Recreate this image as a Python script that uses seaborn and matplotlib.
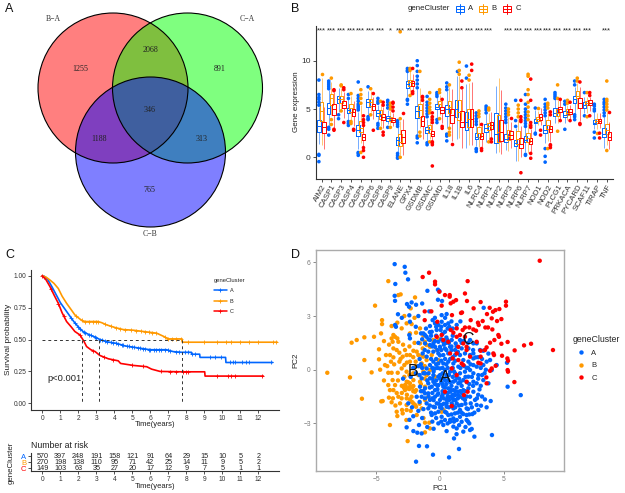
import matplotlib
matplotlib.use("Agg")
import matplotlib.pyplot as plt
from matplotlib.lines import Line2D
from matplotlib.patches import Circle, Rectangle
import numpy as np
import pandas as pd
import seaborn as sns

clusters = ["A", "B", "C"]
cluster_colors = {"A": "#0066FF", "B": "#FF9900", "C": "#FF0000"}

# panel A
venn_labels = ["B\u2212A", "C\u2212A", "C\u2212B"]
venn_counts = ["1255", "2068", "891", "346", "1188", "313", "765"]

# panel B
genes = ["AIM2", "CASP1", "CASP3", "CASP4", "CASP5", "CASP6", "CASP8", "CASP9", "ELANE", "GPX4",
         "GSDMB", "GSDMC", "GSDMD", "IL18", "IL1B", "IL6", "NLRC4", "NLRP1", "NLRP2", "NLRP3",
         "NLRP6", "NLRP7", "NOD1", "NOD2", "PLCG1", "PRKACA", "PYCARD", "SCAF11", "TIRAP", "TNF"]
signif = ["***", "***", "***", "***", "***", "***", "***", "*", "***", "**",
          "***", "***", "***", "***", "***", "***", "***", "***", "", "***",
          "***", "***", "***", "***", "***", "***", "***", "***", "", "***"]

a_low = [1.4, 3.2, 4.7, 3.9, 0.9, 4.3, 3.6, 3.4, 0.5, 6.2, 2.4, 1.6, 4.0, 3.0, 1.9,
         1.0, 1.2, 1.6, 0.4, 0.8, -0.4, 0.5, 2.6, 1.5, 3.5, 3.6, 4.5, 4.6, 2.9, 1.0]
a_q1 = [2.6, 4.5, 5.6, 4.6, 2.2, 5.2, 4.3, 3.8, 1.3, 7.2, 4.1, 2.5, 5.0, 4.3, 4.2,
        2.8, 1.9, 2.6, 1.5, 1.6, 1.2, 1.6, 3.5, 2.5, 4.3, 4.2, 5.65, 5.1, 3.4, 2.1]
a_med = [3.2, 5.1, 6.0, 4.9, 2.8, 5.7, 4.6, 4.1, 1.8, 7.6, 4.8, 2.8, 5.2, 5.0, 5.0,
         3.7, 2.1, 3.0, 2.4, 1.9, 1.5, 1.8, 3.7, 2.8, 4.6, 4.4, 6.0, 5.4, 3.6, 2.4]
a_q3 = [3.9, 5.6, 6.3, 5.1, 3.3, 6.0, 4.9, 4.3, 2.1, 7.9, 5.3, 3.1, 5.5, 5.4, 5.9,
        4.7, 2.5, 3.4, 4.6, 2.4, 1.8, 2.2, 4.0, 3.3, 5.1, 4.8, 6.4, 5.7, 3.9, 3.0]
a_high = [5.2, 7.0, 7.2, 6.0, 4.7, 6.9, 5.4, 4.9, 3.1, 8.8, 7.1, 4.0, 6.2, 6.9, 8.4,
          7.6, 3.3, 4.5, 7.4, 3.4, 3.0, 3.1, 4.9, 4.2, 6.0, 5.4, 7.3, 6.2, 4.7, 4.2]

b_low = [1.3, 4.4, 4.9, 3.8, 1.5, 4.7, 3.2, 3.3, 0.2, 6.5, 3.0, 1.9, 4.4, 3.1, 2.0,
         1.3, 1.1, 1.7, 0.5, 0.7, -0.4, 0.4, 3.3, 1.7, 3.6, 3.9, 5.0, 4.6, 2.9, 1.3]
b_q1 = [3.8, 5.4, 5.6, 4.7, 2.6, 5.3, 4.0, 3.8, 1.2, 7.4, 4.2, 2.5, 5.2, 4.6, 3.9,
        3.1, 2.1, 2.8, 1.6, 1.8, 1.4, 1.6, 3.8, 2.9, 4.3, 4.4, 6.1, 5.4, 3.5, 2.4]
b_med = [4.8, 6.1, 6.0, 5.1, 3.0, 5.7, 4.5, 4.0, 1.6, 7.8, 4.9, 2.9, 5.5, 5.2, 4.7,
         4.0, 2.5, 3.2, 2.6, 2.2, 1.9, 2.0, 4.0, 3.3, 4.6, 4.6, 6.4, 5.6, 3.8, 2.8]
b_q3 = [5.7, 6.6, 6.3, 5.5, 3.8, 6.0, 4.9, 4.2, 2.4, 8.0, 5.5, 3.3, 5.8, 5.8, 5.9,
        5.0, 3.1, 3.6, 4.4, 2.8, 2.7, 2.5, 4.2, 3.9, 5.0, 5.0, 6.9, 5.8, 4.0, 3.4]
b_high = [8.2, 7.8, 7.2, 6.4, 5.4, 6.9, 5.6, 4.8, 3.8, 8.9, 7.2, 4.3, 6.5, 7.3, 8.4,
          7.7, 4.0, 4.6, 8.2, 4.2, 4.0, 3.6, 4.8, 4.9, 5.9, 5.4, 7.7, 6.2, 4.6, 4.7]

c_low = [0.9, 3.0, 4.1, 3.2, 1.2, 4.0, 3.0, 3.2, 0.2, 6.9, 1.9, 1.7, 3.5, 1.7, 1.0,
         1.3, 1.1, 1.9, 0.3, 1.0, 0.0, 0.5, 3.3, 1.6, 3.9, 3.9, 3.8, 4.8, 3.0, 0.9]
c_q1 = [2.5, 4.4, 5.1, 4.3, 1.8, 4.9, 3.9, 3.7, 1.5, 7.4, 3.2, 2.2, 4.6, 3.5, 3.1,
        3.1, 1.9, 2.9, 1.7, 1.9, 1.0, 1.4, 3.9, 2.6, 4.7, 4.5, 5.1, 5.4, 3.5, 1.8]
c_med = [3.1, 5.0, 5.4, 4.7, 2.1, 5.3, 4.2, 3.9, 2.1, 7.7, 3.8, 2.4, 4.9, 4.4, 3.7,
         4.0, 2.2, 3.3, 2.6, 2.3, 1.4, 1.7, 4.2, 2.9, 4.95, 4.7, 5.6, 5.6, 3.8, 2.1]
c_q3 = [3.7, 5.5, 5.8, 5.0, 2.4, 5.5, 4.5, 4.1, 2.8, 7.9, 4.3, 2.7, 5.2, 5.0, 4.8,
        5.0, 2.5, 3.7, 3.9, 2.7, 2.0, 2.0, 4.5, 3.2, 5.2, 5.0, 6.1, 5.9, 4.0, 2.6]
c_high = [5.2, 6.8, 6.8, 5.8, 3.2, 6.2, 5.2, 4.6, 4.0, 8.6, 5.7, 3.4, 5.9, 7.1, 7.1,
          7.8, 3.3, 4.7, 7.0, 3.7, 3.2, 2.9, 5.1, 3.9, 5.9, 5.4, 7.3, 6.2, 4.6, 3.7]

a_out = [[5.4, 5.7, 6.0, 6.2, 6.5, 8.0, 0.2, 0.3, -0.45], [7.1, 7.3, 7.5, 7.7, 7.9, 2.3, 2.9, 3.1], [4.0, 4.4],
         [6.1, 6.5, 3.3, 3.5, 3.7], [4.9, 5.1, 5.3, 5.5, 5.8, 6.1, 6.4, 7.8, 0.2, 0.4, 0.5], [7.3, 4.0, 4.2, 3.9],
         [5.6, 5.8, 6.1, 3.0, 3.3, 3.5], [5.1, 5.4, 5.7, 5.9, 3.1], [3.2, 3.4, 3.6, 3.8, 0.0, -0.1, 0.2, 0.4],
         [9.2, 9.0, 8.9, 6.0, 5.5, 5.9], [7.2, 7.6, 8.0, 8.4, 8.9, 9.5, 10.0, 2.2, 2.0, 1.5],
         [4.2, 4.5, 4.8, 5.1, 5.4, 5.7, 6.3, 1.5, 1.3], [6.3, 6.5, 6.7, 3.6, 3.9], [7.0, 7.3, 7.7, 2.2, 2.4, 1.7],
         [8.9], [8.2, 9.45], [3.4, 3.7, 4.0, 4.3, 4.6, 0.6, 0.8, 0.9], [4.6, 4.9, 5.1, 5.3], [],
         [3.6, 3.9, 4.2, 4.5, 4.8, 5.1, 5.5], [3.2, 3.8, 5.9], [3.2, 3.5, 3.8, 4.1, 4.4, 4.7, 5.0, 5.5, 6.5, 0.3, 0.2],
         [5.1, 2.4, 2.5], [4.3, 4.6, 4.9, 5.2, 5.5, 6.0, 0.9, 0.1, -0.5], [6.1, 6.3, 6.5, 6.7], [5.5, 5.8, 2.9],
         [7.5, 7.9, 4.2, 3.9, 4.4], [6.7, 4.3], [4.8, 5.0, 5.3, 5.5, 2.6, 2.0], [4.3, 4.6, 4.9, 5.2, 5.5, 5.7, 6.0]]
b_out = [[8.6], [8.2, 3.9, 3.4], [7.5, 7.4, 4.8], [6.6, 3.7, 3.5], [5.6, 6.1, 6.5, 7.0, 0.5], [7.1, 4.4], [5.8, 3.0],
         [5.0, 5.3, 5.6, 3.1], [4.0, 0.0, 13.0], [9.2, 9.0, 6.4], [8.9, 2.6, 2.2], [4.6, 4.9, 5.2, 5.6, 6.0, 6.7, 1.6],
         [6.7, 7.0, 4.0], [7.5, 2.3, 2.6, 3.0], [8.6, 9.0, 9.85], [8.0, 8.5], [4.2, 4.5, 4.8], [4.9, 5.1, 1.6], [],
         [4.4, 4.7, 5.0], [4.2, 4.6, 5.0, 5.4], [3.9, 4.3, 4.7, 5.2, 5.7, 6.5, 7.0, 8.4, 8.6], [5.1],
         [5.1, 5.4, 5.6, 0.9], [6.1, 7.5, 2.7], [5.6, 5.9], [8.2, 7.9], [6.7, 4.2], [2.5],
         [7.9, 4.9, 5.2, 5.5, 5.8, 6.0, 0.7]]
c_out = [[], [6.9, 7.0, 2.8, 2.9], [7.0, 7.2, 3.6], [2.8, 2.9], [3.3, 3.6, 3.9, 4.3, 1.0, 0.7, 0.0], [6.6, 2.8],
         [5.4, 5.7, 2.3, 2.6], [4.8, 5.2, 5.6, 5.7], [4.6], [9.2, 6.6, 6.8], [5.9, 6.2, 6.3],
         [3.6, 3.9, 4.2, 4.6, 1.5, 1.3, 1.6, -0.9], [6.0, 3.0, 3.2], [1.4], [7.9, 7.2], [9.65, 9.0], [3.4, 0.7, 0.9],
         [1.6, 1.9], [], [4.1], [5.9, 3.7, 3.9, 4.2, -1.6], [8.1, 5.9, 3.1, 3.3, 3.6, 0.4, -0.1], [2.8, 2.3],
         [4.4, 4.7, 1.2, 1.3, 1.0], [6.0, 3.8], [5.7, 3.8], [7.8, 3.5, 3.4], [6.7, 6.4, 4.3], [2.5, 2.0], [4.7]]

# panel C
a_time = [0, 0.15, 0.3, 0.43, 0.55, 0.7, 0.89, 1.0, 1.15, 1.35, 1.5, 1.65, 1.81, 2.0, 2.28, 2.5, 2.74, 3.0, 3.2,
          3.67, 4.13, 4.59, 5.06, 5.52, 5.98, 6.9, 7.28, 7.74, 8.28, 8.3, 8.74, 8.76, 10.18, 10.2, 12.8]
a_surv = [1, 0.99, 0.97, 0.94, 0.91, 0.87, 0.82, 0.79, 0.76, 0.72, 0.69, 0.66, 0.63, 0.60, 0.56, 0.545, 0.53, 0.515, 0.5,
          0.48, 0.47, 0.45, 0.44, 0.43, 0.42, 0.42, 0.405, 0.40, 0.40, 0.385, 0.385, 0.36, 0.36, 0.32, 0.32]
b_time = [0, 0.2, 0.43, 0.65, 0.89, 1.1, 1.35, 1.6, 1.81, 2.05, 2.28, 3.1, 3.3, 3.57, 4.04, 4.5, 5.06, 5.61, 6.35, 6.72,
          7.0, 7.76, 7.78, 13.05]
b_surv = [1, 0.99, 0.966, 0.94, 0.90, 0.84, 0.784, 0.735, 0.693, 0.665, 0.641, 0.641, 0.632, 0.615, 0.594, 0.578, 0.573,
          0.563, 0.55, 0.526, 0.505, 0.505, 0.479, 0.479]
c_time = [0, 0.2, 0.43, 0.65, 0.89, 1.1, 1.35, 1.6, 1.81, 2.09, 2.3, 2.46, 2.7, 2.93, 3.2, 3.67, 4.22, 4.35, 5.06,
          5.8, 6.07, 6.54, 7.74, 9.02, 9.04, 12.28]
c_surv = [1, 0.97, 0.914, 0.85, 0.784, 0.71, 0.641, 0.60, 0.563, 0.536, 0.49, 0.445, 0.42, 0.406, 0.375, 0.349, 0.333,
          0.3125, 0.297, 0.287, 0.268, 0.25, 0.247, 0.247, 0.2135, 0.2135]

a_censor = [0.1, 1.6, 1.8, 2.0, 2.1, 2.3, 2.4, 2.6, 2.7, 2.9, 3.0, 3.2, 3.3, 3.5, 3.6, 3.8, 3.9, 4.1, 4.2, 4.4, 4.5, 4.7,
            4.8, 5.0, 5.1, 5.3, 5.4, 5.6, 5.7, 5.9, 6.0, 6.2, 6.3, 6.5, 6.6, 6.8, 7.0, 7.1, 7.4, 7.6, 7.9, 8.1,
            8.3, 8.5, 9.3, 9.6, 9.9, 10.4, 10.6, 10.7, 11.1, 11.3, 11.5, 12.7]
b_censor = [1.9, 2.2, 2.4, 2.6, 2.8, 3.0, 3.1, 3.5, 3.8, 4.1, 4.3, 4.6, 4.9, 5.2, 5.5, 5.7, 5.9, 6.1, 6.3, 6.8, 7.0, 7.2,
            7.4, 7.7, 8.1, 9.0, 9.7, 10.2, 10.5, 11.0, 11.5, 12.0, 12.8, 13.0]
c_censor = [0.0, 0.5, 0.9, 1.2, 2.1, 2.8, 3.4, 3.9, 5.0, 5.6, 6.6, 7.1, 7.4, 7.8, 8.0, 8.1, 9.7, 10.3, 10.5, 10.7, 12.2]
median_times = [2.2, 3.13, 7.78]

risk_years = list(range(13))
a_risk = [570, 397, 248, 191, 158, 121, 91, 64, 29, 15, 10, 5, 2]
b_risk = [270, 198, 138, 110, 95, 71, 42, 25, 14, 11, 9, 5, 2]
c_risk = [149, 103, 63, 35, 27, 20, 17, 12, 9, 7, 5, 1, 1]

# panel D
c_pc = [(7.83, 6.09), (-0.86, 5.42), (-1.36, 5.18), (2.17, 4.95), (-0.39, 4.92), (-0.39, 4.77), (-0.05, 4.36), (1.96, 4.26),
        (0.39, 4.17), (0.76, 4.17), (0.76, 4.08), (1.26, 3.89), (1.05, 3.80), (2.12, 3.84), (0.84, 3.71), (0.13, 3.58),
        (3.19, 3.78), (5.18, 3.80), (5.18, 3.58), (3.90, 3.46), (2.64, 3.43), (4.66, 3.39), (4.35, 3.33), (4.16, 3.24),
        (3.69, 3.11), (-1.20, 3.26), (-0.68, 3.26), (1.65, 3.17), (0.94, 3.05), (1.73, 3.20), (4.06, 2.87), (4.82, 2.83),
        (4.48, 2.72), (-1.20, 2.77), (2.41, 2.77), (3.35, 2.72), (2.98, 2.63), (-0.21, 2.68), (3.04, 2.50), (3.56, 2.36),
        (3.77, 2.36), (1.96, 2.36), (2.30, 2.36), (2.62, 2.25), (2.83, 2.18), (4.11, 2.25), (0.84, 2.22), (1.31, 2.31),
        (1.78, 2.22), (1.05, 2.07), (1.57, 1.94), (1.31, 1.84), (1.96, 1.84), (4.58, 1.94), (4.63, 1.84), (4.27, 1.66),
        (3.93, 1.51), (3.66, 1.25), (5.31, 1.55), (4.82, 1.45), (5.86, 1.08), (6.60, 1.36), (7.15, 1.45), (8.87, 1.10),
        (3.53, 1.10), (3.19, 1.06), (4.19, 0.91), (4.24, 0.82), (4.87, 0.78), (5.29, 0.63), (5.34, 0.50), (5.31, -0.02),
        (5.34, -0.11), (4.37, 0.22), (4.06, 0.07), (3.93, -0.06), (3.64, -0.43), (3.66, -0.76), (5.84, -0.69), (3.19, 0.73),
        (3.01, 0.39), (3.19, 0.35), (2.36, 0.73), (2.09, 1.10), (1.70, 0.35), (1.83, 0.26), (1.44, 0.54), (0.99, 0.63),
        (0.92, 0.07), (2.17, -1.23), (0.39, -1.23), (0.92, -2.03), (0.79, 0.91), (1.31, 0.91), (2.88, 1.56), (1.83, 1.47),
        (2.09, 1.28), (0.26, 1.66), (-0.26, 1.84), (0.13, 1.94), (0.65, 1.56), (1.44, 1.28), (2.09, -0.67), (1.31, -0.30),
        (1.88, -1.42)]
b_pc = [(-8.85, -0.17), (-7.07, -0.43), (-6.13, -1.62), (-6.94, 1.51), (-6.54, 1.66), (-5.94, 1.81), (-5.18, 1.84), (-5.10, 3.58),
        (-4.06, 4.95), (-1.96, 4.04), (-3.09, 4.21), (-3.27, 4.17), (-2.30, 3.43), (-4.55, 2.77), (-4.55, 2.55), (-4.63, 2.03),
        (-4.79, 1.14), (-5.94, 0.54), (-4.79, 0.58), (-5.37, -0.15), (-4.61, -1.77), (-4.50, -1.75), (-4.01, -1.56), (-3.80, -1.82),
        (-3.93, -3.09), (-3.40, -2.35), (-3.35, -2.59), (-2.98, -2.25), (-2.54, -3.99), (-2.64, -2.81), (-2.93, -2.44), (-2.62, -2.25),
        (-1.18, -3.50), (-0.79, -3.28), (-1.18, -2.96), (-0.84, -2.96), (-1.83, -2.53), (-1.44, -2.16), (-1.96, -1.97), (-3.80, 2.44),
        (-3.35, 2.63), (-2.62, 2.59), (-2.23, 2.55), (-3.01, 2.31), (-3.66, 1.94), (-3.80, 1.75), (-3.53, 1.84), (-3.35, 1.75),
        (-3.72, 1.56), (-3.27, 1.56), (-2.36, 2.03), (-1.88, 2.07), (-1.57, 2.31), (-3.66, 1.19), (-3.93, 0.82), (-4.24, 0.82),
        (-4.32, 0.26), (-4.14, 0.20), (-3.85, 0.45), (-3.66, 0.69), (-3.19, 0.95), (-2.75, 1.10), (-2.09, 1.06), (-1.83, 1.01),
        (-1.36, 1.19), (-1.05, 1.38), (-0.79, 1.28), (-1.18, 1.56), (-1.57, 1.47), (-0.65, 0.82), (-1.31, 0.73), (-1.70, 0.82),
        (-2.36, 0.82), (-2.62, 0.82), (-2.93, 0.73), (-3.19, 0.45), (-2.80, 0.26), (-2.36, 0.45), (-1.91, 0.45), (-1.44, 0.35),
        (-1.05, 0.54), (-4.06, -0.17), (-3.80, -0.17), (-3.32, -0.17), (-3.01, 0.07), (-2.62, -0.11), (-4.06, -0.86), (-3.72, -0.58),
        (-3.53, -0.86), (-3.93, -1.14), (-2.75, -0.86), (-2.57, -1.04), (-2.36, -0.95), (-2.62, -0.67), (-2.36, -0.76), (-2.09, -0.58),
        (-1.70, -0.30), (-1.31, -0.11), (-1.05, -0.30), (-0.79, -0.02), (-1.57, -0.67), (-1.88, -1.14), (-3.66, -1.14), (-3.27, -1.51),
        (-3.01, -1.60), (-2.62, -1.60), (-2.36, -1.66), (-2.09, -1.88), (-1.88, -2.07), (-2.62, -1.97), (-3.14, -1.88), (-1.18, -0.95),
        (-0.92, -1.51), (-1.18, -1.69), (-0.39, -0.39), (-0.13, 0.54), (-0.26, 1.10), (-0.13, 1.75), (-0.52, 1.66), (0.26, -2.25),
        (0.13, -2.35), (-1.96, -1.23), (-2.23, -1.51), (-2.75, -1.14), (-2.83, -1.01), (-2.41, -1.08), (-2.09, -0.91),
        (-2.0, 1.5), (-2.4, 1.3), (-2.9, 1.4), (-3.4, 1.1), (-3.6, 0.3), (-3.3, -0.6), (-3.0, -0.9), (-2.8, -0.4), (-2.4, -0.3),
        (-2.1, -0.2), (-1.9, 0.2), (-1.6, 0.2), (-1.4, 0.8), (-1.2, 0.2), (-1.5, -0.8), (-1.2, -0.5), (-2.1, -1.2), (-2.6, -1.4),
        (-3.4, -1.3), (-3.7, -1.6), (-3.5, -2.0), (-2.3, -2.3), (-1.6, -1.9), (-1.4, -1.2), (-1.3, -2.7), (-2.0, 2.9), (-2.8, 3.0),
        (-1.3, 1.9), (-4.0, 1.4), (-4.4, 1.6), (-3.1, 0.6), (-2.6, 0.4), (-2.1, 0.7), (-4.4, -0.6), (-4.7, 0.0), (-3.0, -1.3),
        (-2.2, -1.8), (-2.5, -0.7), (-2.7, -0.9), (-2.2, -1.0)]
a_pc = [(-3.56, 5.90), (-2.77, 5.75), (-2.72, 5.42), (-2.51, 5.05), (-3.51, 4.79), (-3.56, 4.13), (-3.53, 3.85), (-0.99, 4.41),
        (-0.16, 4.47), (-0.05, 4.39), (-0.16, 3.91), (0.16, 3.84), (-2.59, 3.67), (-2.23, 3.76), (-1.88, 3.63), (-2.43, 3.52),
        (-2.41, 3.04), (-0.84, 3.26), (0.13, 3.05), (0.52, 3.11), (-0.58, 2.77), (-1.31, 2.03), (-3.46, 2.40), (-3.53, 2.50),
        (-2.36, 2.68), (-2.41, 1.94), (-2.36, 1.75), (-1.18, 1.94), (-1.49, 2.03), (-1.05, 1.84), (-0.79, 2.44), (-0.39, 2.59),
        (-0.13, 2.50), (0.13, 2.68), (0.39, 2.50), (0.65, 2.59), (-0.65, 2.12), (-0.26, 2.22), (0.05, 2.22), (0.39, 2.12),
        (0.73, 2.40), (1.31, 2.50), (-0.79, 1.66), (-0.52, 1.47), (-0.13, 1.56), (0.26, 1.56), (0.58, 1.66), (0.92, 1.66),
        (1.23, 1.47), (1.57, 1.66), (1.88, 1.62), (2.36, 1.66), (2.62, 1.47), (2.88, 1.47), (3.43, 3.46), (3.40, 1.06),
        (2.62, 0.91), (3.14, 1.10), (2.36, 0.82), (2.80, 0.69), (3.93, 0.54), (3.66, 0.45), (3.40, 0.26), (3.09, 0.35),
        (2.88, 0.17), (2.62, 0.26), (4.06, -0.02), (4.45, 0.26), (5.26, 0.39), (5.31, -0.95), (6.34, -1.42), (3.53, -1.66),
        (3.98, -1.75), (3.22, -2.01), (3.66, -2.10), (3.01, -2.25), (4.08, -3.65), (2.70, -3.74), (1.49, -4.43), (0.71, -4.90),
        (-0.55, -4.75), (-1.02, -4.28), (-1.65, -4.26), (-1.88, -5.14), (1.10, -3.84), (-2.62, -3.22), (-1.65, -3.09), (-1.78, -3.52),
        (-1.44, -3.56), (-2.09, -3.43), (0.52, -3.43), (0.79, -2.91), (1.31, -3.28), (1.83, -3.46), (2.36, -3.37), (2.49, -3.31),
        (2.30, -3.00), (1.57, -2.63), (1.05, -2.72), (0.39, -2.81), (-0.13, -3.00), (-0.65, -2.53), (-0.39, -2.44), (0.13, -2.63),
        (0.65, -2.53), (1.18, -2.44), (1.83, -2.48), (2.09, -2.53), (2.54, -2.48), (2.41, -1.88), (2.75, -1.69), (2.88, -1.97),
        (2.09, -2.16), (1.57, -2.25), (1.05, -2.16), (0.52, -2.07), (0.13, -2.16), (-0.26, -1.88), (-0.79, -1.69), (-1.18, -1.60),
        (-1.05, -1.88), (-1.44, -1.51), (-2.49, -1.88), (-1.18, -1.04), (-0.92, -0.76), (-0.65, -0.95), (-0.39, -1.14), (-0.13, -1.32),
        (0.13, -1.51), (0.52, -1.69), (0.79, -1.51), (1.05, -1.69), (1.31, -1.88), (1.70, -1.97), (1.96, -1.69), (2.36, -1.51),
        (2.62, -1.23), (2.23, -1.04), (1.83, -1.14), (1.44, -1.23), (1.05, -1.14), (0.65, -1.04), (0.26, -0.95), (-0.13, -0.86),
        (-0.52, -0.67), (-0.79, -0.48), (-0.52, -0.30), (-0.13, -0.39), (0.26, -0.48), (0.65, -0.58), (1.05, -0.67), (1.44, -0.76),
        (1.83, -0.58), (2.23, -0.39), (2.62, -0.20), (3.01, -0.30), (3.40, -0.58), (2.88, -0.76), (2.62, -0.67), (3.80, -0.76),
        (2.36, -0.02), (1.96, -0.11), (1.57, -0.20), (1.18, -0.20), (0.79, -0.11), (0.39, -0.02), (0.0, 0.07), (-0.39, 0.07),
        (-0.79, 0.26), (-0.52, 0.45), (-0.13, 0.35), (0.26, 0.35), (0.65, 0.45), (1.05, 0.35), (1.44, 0.17), (1.83, 0.54),
        (2.23, 0.45), (2.62, 0.63), (1.57, 0.82), (1.18, 0.82), (0.65, 0.91), (0.26, 0.82), (-0.13, 0.91), (-0.52, 1.01),
        (-0.92, 1.01), (-1.05, 0.73), (-1.36, 0.91), (1.96, 0.91), (2.23, 1.19), (1.70, 1.19), (1.18, 1.10), (0.79, 1.28),
        (0.39, 1.19), (0.0, 1.28), (-0.39, 1.28), (-0.79, 1.38), (-1.18, 1.47), (-1.05, 0.07), (-1.18, -0.20), (-1.44, -0.48),
        (-1.57, -0.95), (-1.83, -1.51), (-1.18, -1.32), (-0.92, -1.32), (-0.39, -1.51), (0.0, -1.69), (0.39, -1.28), (0.79, -1.23),
        (1.18, -1.42), (1.57, -1.51), (0.92, -1.88), (0.52, -1.88), (0.13, -1.97), (-0.52, -2.07), (-0.13, -2.35), (-0.92, -2.16),
        (0.39, -2.35), (1.31, -2.81), (1.70, -2.91), (1.05, -3.18), (0.26, -3.09), (2.09, -2.81),
        (0.0, -0.3), (0.5, -0.3), (1.0, -0.4), (1.5, -0.5), (0.1, -0.7), (0.5, -0.8), (0.9, -0.9), (1.3, -1.0), (1.7, -0.9),
        (-0.2, -1.1), (0.2, -1.2), (0.6, -1.3), (1.0, -1.4), (1.4, -1.6), (-0.6, -1.3), (-0.4, -0.8), (-0.8, -1.0), (-0.9, -0.2),
        (-0.5, -0.1), (-0.2, 0.1), (0.2, 0.1), (0.6, 0.1), (1.0, 0.1), (1.3, -0.4), (0.4, 0.6), (0.8, 0.6), (1.2, 0.5), (-0.3, 0.6),
        (-0.7, 0.6), (0.0, 0.8), (0.5, 1.1), (0.9, 1.1), (-0.2, 1.1), (-0.6, 1.3), (0.3, 1.4), (0.7, 1.5), (-0.3, 1.9), (0.2, 2.0),
        (-0.7, 1.9), (1.0, 1.9), (2.1, 0.1), (2.4, 0.3), (2.0, -0.4), (1.7, -1.3), (2.0, -1.2), (2.3, -0.8), (2.6, -0.9), (0.3, -1.6),
        (0.7, -1.7), (1.2, -1.7), (-0.1, -1.9), (-0.5, -1.7), (-0.8, -2.0), (1.0, -2.0), (1.5, -2.0), (2.0, -1.9), (0.5, -2.4),
        (0.9, -2.5), (1.4, -2.4), (-0.3, -2.7), (0.8, -2.8), (1.5, -3.1), (2.2, -2.2), (2.7, -2.4), (3.0, -1.4), (3.2, -0.9),
        (3.5, -0.2), (3.2, 0.1), (3.0, 0.7), (2.2, -2.9),
        (-0.6, 0.1), (-1.0, -0.6), (-1.3, -0.2), (-1.5, 0.3), (-1.6, 0.6), (-1.2, 1.1), (-0.9, 1.7), (-1.4, 1.7), (-1.7, 1.5),
        (-1.9, 2.4), (-1.1, 2.3), (-0.4, 2.9), (0.4, 2.9), (0.9, 2.7), (1.0, 2.3), (0.5, 1.8), (0.1, 1.7), (1.4, 1.0), (1.0, 0.7),
        (0.5, 0.3), (0.1, 0.5), (-0.3, 0.3), (0.2, -0.2), (0.7, -0.3), (1.1, -0.1), (1.6, 0.1), (1.9, 0.2), (2.2, 0.1), (2.5, -0.4),
        (2.1, -0.7), (1.6, -0.7), (1.2, -0.6), (0.8, -0.7), (0.4, -0.6), (0.0, -0.5), (-0.3, -0.6), (-0.6, -0.5), (-0.2, -0.9),
        (0.2, -0.8), (0.4, -1.0), (0.8, -1.1), (1.2, -1.2), (1.6, -1.2), (2.1, -1.5), (1.8, -1.6), (1.4, -1.4), (1.0, -1.6),
        (0.6, -1.5), (0.2, -1.4), (-0.2, -1.4), (-0.6, -1.6), (-0.9, -1.5), (-1.3, -1.2), (-1.5, -1.2), (-1.6, -1.8), (-1.3, -2.2),
        (-0.7, -2.4), (-0.4, -2.1), (0.0, -2.1), (0.3, -1.9), (0.7, -2.1), (1.2, -2.1), (1.7, -2.4), (2.3, -2.5), (2.5, -2.1),
        (2.9, -1.6), (3.3, -1.5), (3.1, -1.1), (3.0, -0.5), (3.3, -0.3), (3.6, 0.0), (3.3, 0.6), (3.8, 0.9), (2.6, 1.1), (2.2, 1.5),
        (1.7, 1.5), (1.3, 1.3), (0.9, 1.3), (0.5, 1.5), (0.1, 1.1), (-0.4, 1.6), (-0.8, 2.1), (-0.3, 2.4), (0.1, 2.4), (0.6, 2.3),
        (1.6, 2.7), (0.6, -3.0), (0.1, -2.9), (-0.5, -3.3), (-1.0, -3.2), (1.1, -2.9), (2.0, -3.2), (1.3, -3.6), (-0.6, -2.9),
        (-1.4, -2.7), (-1.7, -2.3), (-2.1, -2.6), (-2.2, -2.1), (-1.6, -0.3), (-1.4, 0.1), (-1.9, -0.2), (-2.1, 0.1), (-1.7, 0.2),
        (-2.3, -0.4), (-2.9, -0.5), (-2.4, -2.8), (-3.3, 3.1), (-3.0, 2.9), (-1.7, 3.0), (-1.4, 3.7)]
pc_centers = {"A": (0.45, -0.45), "B": (-2.15, -0.09), "C": (2.2, 1.7)}

sns.set_theme(style="ticks")
plt.rcParams["font.family"] = ["Liberation Sans", "DejaVu Sans"]

W, H = 625, 493
fig = plt.figure(figsize=(W / 100, H / 100), dpi=100, facecolor="white")


def panel_axes(left, top, right, bottom):
    return fig.add_axes([left / W, 1 - bottom / H, (right - left) / W, (bottom - top) / H])


def style_axis(ax, tick_size):
    sns.despine(ax=ax)
    for side in ["left", "bottom"]:
        ax.spines[side].set_linewidth(0.8)
        ax.spines[side].set_color("#333333")
    ax.tick_params(labelsize=tick_size, length=2, width=0.6, pad=1.5, colors="#333333")


# overlay in figure pixels: venn, panel letters, free labels
ov = fig.add_axes([0, 0, 1, 1])
ov.set_xlim(0, W)
ov.set_ylim(H, 0)
ov.axis("off")

for letter, x, y in [("A", 9, 9), ("B", 295, 9), ("C", 10, 255), ("D", 296, 255)]:
    ov.text(x, y, letter, fontsize=9, ha="center", va="center", color="#111111")

for center, col in [((113, 88), (1, 0, 0, 0.5)), ((187.5, 88), (0, 1, 0, 0.5)), ((150.5, 152), (0, 0, 1, 0.5))]:
    ov.add_patch(Circle(center, 75, fc=col, ec="none"))
for center in [(113, 88), (187.5, 88), (150.5, 152)]:
    ov.add_patch(Circle(center, 75, fc="none", ec="black", lw=0.8))
for label, x, y in zip(venn_labels, [53, 247, 150], [19, 19, 234]):
    ov.text(x, y, label, family="Liberation Serif", fontsize=5.6, ha="center", va="center", color="#333333")
for label, x, y in zip(venn_counts, [80, 150, 220, 150, 99, 202, 150], [69, 50, 69, 109.5, 139, 139, 190]):
    ov.text(x, y, label, family="Liberation Serif", fontsize=5.8, ha="center", va="center", color="#222222")

# panel B
rows = []
out_rows = []
stats = {"A": [a_low, a_q1, a_med, a_q3, a_high], "B": [b_low, b_q1, b_med, b_q3, b_high],
         "C": [c_low, c_q1, c_med, c_q3, c_high]}
outliers = {"A": a_out, "B": b_out, "C": c_out}
for cl in clusters:
    for i, gene in enumerate(genes):
        for series in stats[cl]:
            rows.append({"gene": gene, "cluster": cl, "value": series[i]})
        for val in outliers[cl][i]:
            out_rows.append({"gene": gene, "cluster": cl, "value": val})
box_df = pd.DataFrame(rows)
out_df = pd.DataFrame(out_rows)

ax_b = panel_axes(315.6, 26, 612.7, 179)
sns.stripplot(data=out_df, x="gene", y="value", hue="cluster", order=genes, hue_order=clusters,
              palette=cluster_colors, dodge=True, jitter=False, size=2.6, linewidth=0, legend=False, ax=ax_b)
sns.boxplot(data=box_df, x="gene", y="value", hue="cluster", order=genes, hue_order=clusters,
            palette=cluster_colors, fill=False, width=0.8, gap=-0.35, whis=(0, 100), showcaps=False,
            showfliers=False, linewidth=0.7, whiskerprops={"alpha": 0.55}, legend=False, ax=ax_b)
ax_b.set_xlim(-0.6, 29.6)
ax_b.set_ylim(-2.25, 13.6)
ax_b.set_yticks([0, 5, 10])
ax_b.set_xlabel("")
ax_b.set_ylabel("")
style_axis(ax_b, 6)
ax_b.tick_params(axis="x", labelsize=5.7, pad=1)
plt.setp(ax_b.get_xticklabels(), rotation=60, ha="right", rotation_mode="anchor")
for i, s in enumerate(signif):
    ax_b.text(i, 13.05, s, fontsize=5.6, ha="center", va="center", color="#222222")
ov.text(297, 102, "Gene expression", fontsize=5.8, rotation=90, ha="center", va="center", color="#222222")
ov.text(429, 9, "geneCluster", fontsize=5.7, ha="center", va="center", color="#222222")
for cl, kx in zip(clusters, [460, 483, 507]):
    col = cluster_colors[cl]
    ov.add_patch(Rectangle((kx - 4, 6), 8, 6, fc="none", ec=col, lw=0.7))
    ov.add_line(Line2D([kx - 4, kx + 4], [9, 9], color=col, lw=0.7))
    ov.add_line(Line2D([kx, kx], [4, 14], color=col, lw=0.7))
    ov.text(kx + 11, 9, cl, fontsize=5.5, ha="center", va="center", color="#222222")

# panel C
km_df = pd.concat([pd.DataFrame({"time": a_time, "surv": a_surv, "cluster": "A"}),
                   pd.DataFrame({"time": b_time, "surv": b_surv, "cluster": "B"}),
                   pd.DataFrame({"time": c_time, "surv": c_surv, "cluster": "C"})])
ax_c = panel_axes(31.3, 270, 278.7, 409.7)
sns.lineplot(data=km_df, x="time", y="surv", hue="cluster", hue_order=clusters, palette=cluster_colors,
             estimator=None, linewidth=1.2, legend=False, ax=ax_c)
curves = {"A": (a_time, a_surv, a_censor), "B": (b_time, b_surv, b_censor), "C": (c_time, c_surv, c_censor)}
for cl in clusters:
    times, survs, cens = curves[cl]
    sns.scatterplot(x=cens, y=np.interp(cens, times, survs), marker="+", s=10, color=cluster_colors[cl],
                    linewidth=0.6, legend=False, ax=ax_c)
ax_c.plot([0, median_times[-1]], [0.5, 0.5], color="#333333", lw=0.7, ls=(0, (3, 3)))
for t in median_times:
    ax_c.plot([t, t], [0.5, 0], color="#333333", lw=0.7, ls=(0, (3, 3)))
ax_c.set_xlim(-0.61, 13.13)
ax_c.set_ylim(-0.05, 1.045)
ax_c.set_xticks(risk_years)
ax_c.set_yticks([0, 0.25, 0.5, 0.75, 1])
ax_c.set_yticklabels(["0.00", "0.25", "0.50", "0.75", "1.00"])
ax_c.set_xlabel("")
ax_c.set_ylabel("")
style_axis(ax_c, 4.8)
ax_c.text(0.27, 0.198, "p<0.001", fontsize=6.7, va="center", color="#222222")
ov.text(9, 339, "Survival probability", fontsize=6, rotation=90, ha="center", va="center", color="#222222")
ov.text(155, 424, "Time(years)", fontsize=5.5, ha="center", va="center", color="#222222")
handles = [Line2D([], [], color=cluster_colors[cl], lw=1.1, marker="+", ms=3, mew=0.6) for cl in clusters]
ax_c.legend(handles, clusters, title="geneCluster", frameon=False, loc="upper left", alignment="left",
            bbox_to_anchor=(214 / W, 1 - 278 / H), bbox_transform=fig.transFigure, borderpad=0, borderaxespad=0,
            fontsize=4, title_fontsize=4.2, handlelength=2.3, handletextpad=0.5, labelspacing=0.95)

# risk table
ax_r = panel_axes(31.3, 453.3, 278.7, 471.3)
ax_r.set_xlim(-0.61, 13.13)
ax_r.set_ylim(0.5, 3.5)
for cl, ypos, counts in zip(clusters, [3, 2, 1], [a_risk, b_risk, c_risk]):
    for yr, n in zip(risk_years, counts):
        ax_r.text(yr, ypos, str(n), fontsize=5.2, ha="center", va="center", color="#222222")
ax_r.set_xticks(risk_years)
ax_r.set_yticks([3, 2, 1])
ax_r.set_yticklabels(clusters)
style_axis(ax_r, 4.8)
for tick, cl in zip(ax_r.get_yticklabels(), clusters):
    tick.set_color(cluster_colors[cl])
    tick.set_fontsize(5.5)
ov.text(31, 445, "Number at risk", fontsize=6.3, ha="left", va="center", color="#222222")
ov.text(11, 463, "geneCluster", fontsize=5.7, rotation=90, ha="center", va="center", color="#222222")
ov.text(155, 486, "Time(years)", fontsize=5.5, ha="center", va="center", color="#222222")

# panel D
pc_df = pd.concat([pd.DataFrame(b_pc, columns=["PC1", "PC2"]).assign(cluster="B"),
                   pd.DataFrame(a_pc, columns=["PC1", "PC2"]).assign(cluster="A"),
                   pd.DataFrame(c_pc, columns=["PC1", "PC2"]).assign(cluster="C")])
ax_d = panel_axes(315.7, 250, 564.3, 471)
sns.scatterplot(data=pc_df, x="PC1", y="PC2", hue="cluster", hue_order=clusters, palette=cluster_colors,
                s=10, linewidth=0, ax=ax_d)
ax_d.set_xlim(-9.76, 9.76)
ax_d.set_ylim(-5.66, 6.69)
ax_d.set_xticks([-5, 0, 5])
ax_d.set_yticks([-3, 0, 3, 6])
for side in ax_d.spines.values():
    side.set_color("#ABABAB")
    side.set_linewidth(1)
ax_d.tick_params(labelsize=4.8, length=2, width=0.6, pad=1.5, colors="#777777")
ax_d.set_xlabel("PC1", fontsize=5.8, labelpad=1.5, color="#222222")
ax_d.set_ylabel("PC2", fontsize=5.8, labelpad=3, color="#222222")
for cl, (x, y) in pc_centers.items():
    ax_d.text(x, y, cl, fontsize=11.5, ha="center", va="center", color="#111111")
sns.move_legend(ax_d, "upper left", bbox_to_anchor=(573 / W, 1 - 335 / H), bbox_transform=fig.transFigure,
                title="geneCluster", frameon=False, borderpad=0, borderaxespad=0, fontsize=5.5, title_fontsize=6.3,
                labelspacing=0.7, handletextpad=0.4, alignment="left")

fig.savefig("out.png", dpi=100)
